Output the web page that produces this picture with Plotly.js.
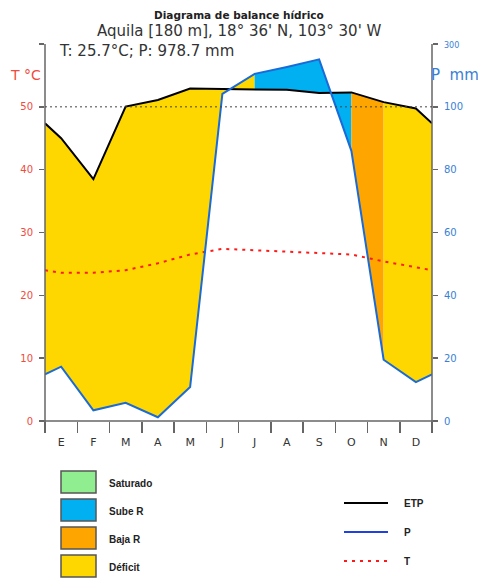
<!DOCTYPE html>
<html>
<head>
<meta charset="utf-8">
<script src="https://cdn.plot.ly/plotly-3.0.1.min.js"></script>
<style>
html,body{margin:0;padding:0;background:#fff;}
#chart{width:478px;height:580px;}
</style>
</head>
<body>
<div id="chart"></div>
<script>
// ---- Data ----
const months = ['E','F','M','A','M','J','J','A','S','O','N','D'];
const precip = [17.3, 3.4, 5.8, 1.2, 10.8, 141, 205, 227, 251, 86, 19.5, 12.4];   // P mm
const etp    = [90, 77, 101, 122, 158, 157, 156, 154, 144, 146, 115, 99.5];       // ETP mm
const temp   = [23.6, 23.6, 24.0, 25.1, 26.5, 27.4, 27.2, 27.0, 26.8, 26.5, 25.4, 24.4]; // T °C
// state of the segment that starts at each month's midpoint
const estado = ['Déficit','Déficit','Déficit','Déficit','Déficit','Déficit',
                'Sube R','Sube R','Sube R','Baja R','Déficit','Déficit'];
const leftTicks  = ['0','10','20','30','40','50',''];
const rightTicks = ['0','20','40','60','80','100','<span style="font-size:8px">300</span>'];
const legendAreas = ['Saturado','Sube R','Baja R','Déficit'];
const legendLines = ['ETP','P','T'];

const areaColor = {'Saturado':'#90EE90','Sube R':'#00B0F0','Baja R':'#FFA500','Déficit':'#FFD700'};

// Walter-Lieth scale: 2 mm per °C up to 100 mm, 20 mm per °C above
function pScale(mm){ return mm <= 100 ? mm/2 : 50 + (mm-100)/20; }

// x positions: edges + month midpoints (wrap-around Dec/Jan at the edges)
function extend(arr){
  const edge = (arr[0] + arr[arr.length-1]) / 2;
  return [edge].concat(arr, [edge]);
}
const xs = [0].concat(months.map((m,i)=>i+0.5), [12]);
const pS = extend(precip).map(pScale);
const eS = extend(etp).map(pScale);
const tS = extend(temp);

// segment states (13 segments between the 14 x positions)
const segState = [];
for (let k=0;k<13;k++){
  segState.push((k===0||k===12) ? estado[11] : estado[k-1]);
}
// group consecutive segments
const traces = [];
let a = 0;
for (let k=1;k<=13;k++){
  if (k===13 || segState[k]!==segState[a]){
    const b = k; // polygon from xs[a] .. xs[b]
    const px = [], py = [];
    for (let i=a;i<=b;i++){ px.push(xs[i]); py.push(eS[i]); }
    for (let i=b;i>=a;i--){ px.push(xs[i]); py.push(pS[i]); }
    traces.push({x:px, y:py, type:'scatter', mode:'lines', fill:'toself',
      fillcolor: areaColor[segState[a]], line:{width:0, color:areaColor[segState[a]]},
      hoverinfo:'skip', showlegend:false});
    a = k;
  }
}
traces.push({x:xs, y:tS, type:'scatter', mode:'lines',
  line:{color:'#ff1a1a', width:2, dash:'3px,5px'}, hoverinfo:'skip', showlegend:false});
traces.push({x:xs, y:eS, type:'scatter', mode:'lines',
  line:{color:'#000', width:2}, hoverinfo:'skip', showlegend:false});
traces.push({x:xs, y:pS, type:'scatter', mode:'lines',
  line:{color:'#1a6ad8', width:2}, hoverinfo:'skip', showlegend:false});
// forces the right axis to be drawn
traces.push({x:[0], y:[0], yaxis:'y2', type:'scatter', mode:'markers',
  marker:{opacity:0}, hoverinfo:'skip', showlegend:false});

// pixel -> paper helpers
const L=45, T=44, W=387, H=377;
const xp = px => (px-L)/W;
const yp = py => (T+H-py)/H;

const annotations = [
  {text:'<b>Diagrama de balance hídrico</b>', x:xp(239), y:yp(15), font:{family:'DejaVu Sans', size:10.5, color:'#222'}},
  {text:"Aquila [180 m], 18° 36' N, 103° 30' W", x:xp(239), y:yp(31), font:{family:'DejaVu Sans', size:15, color:'#333'}},
  {text:'T: 25.7°C; P: 978.7 mm', x:xp(57), y:yp(51), xanchor:'left', font:{family:'DejaVu Sans', size:15, color:'#333'}},
  {text:'T °C', x:xp(25), y:yp(75), font:{family:'DejaVu Sans', size:14, color:'#f24a3c'}},
  {text:'P  mm', x:xp(455), y:yp(75), font:{family:'DejaVu Sans', size:15, color:'#3a7fd5'}}
];
const shapes = [
  {type:'line', xref:'paper', yref:'paper', x0:0, x1:0, y0:yp(432), y1:1, line:{color:'#666', width:1.5}},
  {type:'line', xref:'paper', yref:'paper', x0:1, x1:1, y0:yp(432), y1:1, line:{color:'#666', width:1.5}},
  {type:'line', xref:'paper', yref:'paper', x0:xp(40), x1:xp(437), y0:0, y1:0, line:{color:'#666', width:1.5}},
  {type:'line', xref:'x', yref:'y', x0:0, x1:12, y0:50, y1:50, layer:'above', line:{color:'#444', width:1, dash:'2px,3px'}}
];
legendAreas.forEach((name,i)=>{
  const top = 471 + i*28;
  shapes.push({type:'rect', xref:'paper', yref:'paper', x0:xp(61), x1:xp(96), y0:yp(top+22), y1:yp(top),
    fillcolor:areaColor[name], line:{color:'#555', width:1.5}});
  annotations.push({text:'<b>'+name+'</b>', x:xp(107), y:yp(top+12), xanchor:'left',
    font:{family:'Liberation Sans', size:10, color:'#222'}});
});
const lineStyles = [{color:'#000', dash:'solid'}, {color:'#2040e0', dash:'solid'}, {color:'#ff1a1a', dash:'3px,5px'}];
legendLines.forEach((name,i)=>{
  const yy = 503 + i*29;
  shapes.push({type:'line', xref:'paper', yref:'paper', x0:xp(344), x1:xp(388), y0:yp(yy), y1:yp(yy),
    line:{color:lineStyles[i].color, width:2, dash:lineStyles[i].dash}});
  annotations.push({text:'<b>'+name+'</b>', x:xp(402), y:yp(yy), xanchor:'left',
    font:{family:'Liberation Sans', size:10, color:'#222'}});
});
annotations.forEach(an=>{ an.xref='paper'; an.yref='paper'; an.showarrow=false; if(!an.xanchor) an.xanchor='center'; an.yanchor='middle'; });

const layout = {
  width:478, height:580,
  margin:{l:L, r:478-L-W, t:T, b:580-T-H, pad:0},
  paper_bgcolor:'#fff', plot_bgcolor:'#fff',
  showlegend:false,
  font:{family:'DejaVu Sans', color:'#333'},
  xaxis:{range:[0,12], showgrid:false, zeroline:false, showline:false,
    tickvals:months.map((m,i)=>i+0.5), ticktext:months,
    ticks:'outside', ticklen:11, tickcolor:'rgba(0,0,0,0)',
    tickfont:{family:'DejaVu Sans', size:11, color:'#333'},
    minor:{ticks:'outside', ticklen:11, tickcolor:'#666', tickwidth:1.5, dtick:1, tick0:0, showgrid:false},
    fixedrange:true},
  yaxis:{range:[0,60], showgrid:false, zeroline:false, showline:false,
    tickvals:[0,10,20,30,40,50,60], ticktext:leftTicks,
    ticks:'outside', ticklen:5, tickcolor:'#666', tickwidth:1.5, ticklabelstandoff:4,
    tickfont:{family:'DejaVu Sans', size:10, color:'#f24a3c'}, fixedrange:true},
  yaxis2:{range:[0,60], overlaying:'y', side:'right', showgrid:false, zeroline:false, showline:false,
    tickvals:[0,10,20,30,40,50,60], ticktext:rightTicks,
    ticks:'outside', ticklen:5, tickcolor:'#666', tickwidth:1.5, ticklabelstandoff:4,
    tickfont:{family:'DejaVu Sans', size:10, color:'#3a7fd5'}, fixedrange:true},
  shapes:shapes,
  annotations:annotations
};
Plotly.newPlot('chart', traces, layout, {staticPlot:true, displayModeBar:false});
</script>
</body>
</html>
